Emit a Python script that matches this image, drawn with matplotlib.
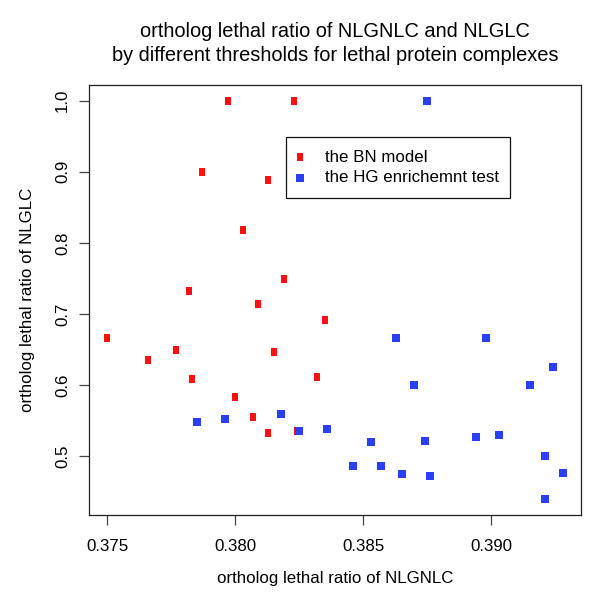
import matplotlib
matplotlib.use("Agg")
import matplotlib.pyplot as plt
from matplotlib.patches import Rectangle

plt.rcParams['font.family'] = ['Liberation Sans', 'DejaVu Sans']

# BN model (red)
bn_x = [0.3797, 0.3823, 0.3787, 0.3813, 0.3803, 0.3819, 0.3782, 0.3809, 0.3835,
        0.3750, 0.3777, 0.3766, 0.3815, 0.3783, 0.3832, 0.3800, 0.3807, 0.3813, 0.3824]
bn_y = [1.000, 1.000, 0.900, 0.889, 0.818, 0.750, 0.733, 0.714, 0.692,
        0.667, 0.650, 0.636, 0.647, 0.609, 0.611, 0.583, 0.556, 0.533, 0.536]

# HG enrichment test (blue)
hg_x = [0.3785, 0.3796, 0.3818, 0.3825, 0.3836, 0.3875, 0.3863, 0.3898, 0.3924,
        0.3870, 0.3915, 0.3853, 0.3874, 0.3894, 0.3903, 0.3846, 0.3857, 0.3865,
        0.3876, 0.3921, 0.3928, 0.3921]
hg_y = [0.548, 0.552, 0.560, 0.536, 0.539, 1.000, 0.667, 0.667, 0.625,
        0.600, 0.600, 0.520, 0.522, 0.527, 0.530, 0.487, 0.487, 0.475,
        0.473, 0.500, 0.477, 0.440]

x_ticks = [0.375, 0.380, 0.385, 0.390]
x_ticklabels = ["0.375", "0.380", "0.385", "0.390"]
y_ticks = [0.5, 0.6, 0.7, 0.8, 0.9, 1.0]
y_ticklabels = ["0.5", "0.6", "0.7", "0.8", "0.9", "1.0"]

title = "ortholog lethal ratio of NLGNLC and NLGLC\nby different thresholds for lethal protein complexes"
xlabel = "ortholog lethal ratio of NLGNLC"
ylabel = "ortholog lethal ratio of NLGLC"
labels = ["the BN model", "the HG enrichemnt test"]

red = "#ff1010"
blue = "#2a40f8"

fig = plt.figure(figsize=(6.0, 6.08), dpi=100)
ax = fig.add_axes([89/600, (608-515)/608, (581-89)/600, (515-84.7)/608])

rect = [(-0.39, -0.5), (0.39, -0.5), (0.39, 0.5), (-0.39, 0.5), (-0.39, -0.5)]
ax.scatter(bn_x, bn_y, marker=rect, s=5.6**2, c=red, linewidths=0, zorder=3)
ax.scatter(hg_x, hg_y, marker='s', s=5.5**2, c=blue, linewidths=0, zorder=3)

allx = bn_x + hg_x
ally = bn_y + hg_y
rx = max(allx) - min(allx)
ry = max(ally) - min(ally)
ax.set_xlim(min(allx) - 0.04*rx, max(allx) + 0.04*rx)
ax.set_ylim(min(ally) - 0.04*ry, max(ally) + 0.04*ry)

ax.set_xticks(x_ticks)
ax.set_xticklabels(x_ticklabels)
ax.set_yticks(y_ticks)
ax.set_yticklabels(y_ticklabels, rotation=90, va='center')

for s in ax.spines.values():
    s.set_linewidth(0.9)
    s.set_color('#222222')
ax.tick_params(axis='both', length=7.5, width=0.9, color='#444444', labelsize=12.2, direction='out')
ax.tick_params(axis='x', pad=10)
ax.tick_params(axis='y', pad=6)

fig.text(335/600, 1 - 43.5/608, title, ha='center', va='center', fontsize=14.4, linespacing=1.38)
fig.text(335/600, 1 - 578/608, xlabel, ha='center', va='center', fontsize=12.2)
fig.text(28/600, 1 - 300/608, ylabel, ha='center', va='center', fontsize=12.2, rotation=90)

# legend (R-style box), in axes fraction
lx0, lx1, ly0, ly1 = 0.3998, 0.8557, 0.736, 0.8792
ax.add_patch(Rectangle((lx0, ly0), lx1 - lx0, ly1 - ly0, transform=ax.transAxes,
                       facecolor='white', edgecolor='#111111', linewidth=0.9, zorder=4))
row_y = [0.8313, 0.7839]
ax.scatter([0.4289], [row_y[0]], marker=rect, s=5.6**2, c=red, linewidths=0,
           transform=ax.transAxes, zorder=5, clip_on=False)
ax.scatter([0.4289], [row_y[1]], marker='s', s=5.5**2, c=blue, linewidths=0,
           transform=ax.transAxes, zorder=5, clip_on=False)
for lab, yy in zip(labels, row_y):
    ax.text(0.4797, yy, lab, transform=ax.transAxes, ha='left', va='center',
            fontsize=12.2, zorder=5)

fig.savefig("out.png", dpi=100)
